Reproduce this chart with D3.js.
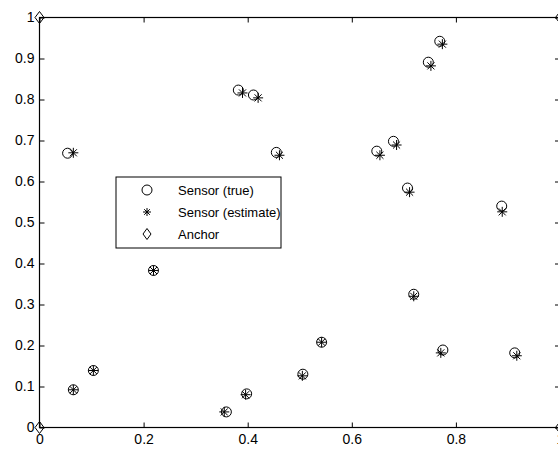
<!DOCTYPE html>
<html><head><meta charset="utf-8">
<script src="https://cdn.jsdelivr.net/npm/d3@7"></script>
<style>body{margin:0;background:#fff}svg{display:block}text{font-family:"Liberation Sans",Arial,sans-serif;font-size:13px;fill:#000}.tk text{font-size:14px}</style>
</head><body><svg id="c" width="558" height="450"></svg>
<script>
const trueX = [0.054,0.382,0.411,0.455,0.769,0.747,0.680,0.648,0.707,0.888,0.219,0.719,0.542,0.506,0.775,0.913,0.398,0.359,0.065,0.1035];
const trueY = [0.669,0.823,0.811,0.671,0.942,0.891,0.698,0.674,0.584,0.540,0.383,0.325,0.208,0.130,0.189,0.182,0.082,0.038,0.092,0.139];
const estX  = [0.065,0.390,0.420,0.461,0.774,0.752,0.686,0.654,0.711,0.889,0.219,0.719,0.542,0.505,0.771,0.917,0.396,0.355,0.065,0.1035];
const estY  = [0.670,0.816,0.804,0.664,0.935,0.882,0.689,0.664,0.574,0.526,0.383,0.320,0.208,0.126,0.182,0.175,0.080,0.038,0.092,0.139];
const anchorX = [0,0,1,1];
const anchorY = [0,1,0,1];
const xTicks = [0,0.2,0.4,0.6,0.8,1];
const yTicks = [0,0.1,0.2,0.3,0.4,0.5,0.6,0.7,0.8,0.9,1];
const legendLabels = ["Sensor (true)","Sensor (estimate)","Anchor"];

const svg = d3.select("#c");
const x = d3.scaleLinear().domain([0,1]).range([39.5,560]);
const y = d3.scaleLinear().domain([0,1]).range([427.5,17.5]);

// box
svg.append("rect").attr("x",x(0)).attr("y",y(1)).attr("width",x(1)-x(0)).attr("height",y(0)-y(1))
  .attr("fill","none").attr("stroke","#000").attr("stroke-width",1.2);

const fmt = d => d===0?"0":d===1?"1":d3.format(".1f")(d);
svg.append("g").attr("class","tk").attr("transform",`translate(0,${y(0)})`)
  .call(d3.axisBottom(x).tickValues(xTicks).tickFormat(fmt).tickSizeInner(-5).tickSizeOuter(0).tickPadding(7))
  .call(g=>{g.select(".domain").remove();g.selectAll("text").attr("font-size",null).attr("font-family",null);});
svg.append("g").attr("transform",`translate(0,${y(1)})`)
  .call(d3.axisTop(x).tickValues(xTicks).tickFormat("").tickSizeInner(-5).tickSizeOuter(0))
  .call(g=>g.select(".domain").remove());
svg.append("g").attr("class","tk").attr("transform",`translate(${x(0)},0)`)
  .call(d3.axisLeft(y).tickValues(yTicks).tickFormat(fmt).tickSizeInner(-5).tickSizeOuter(0).tickPadding(5))
  .call(g=>{g.select(".domain").remove();g.selectAll("text").attr("font-size",null).attr("font-family",null);});
svg.append("g").attr("transform",`translate(${x(1)},0)`)
  .call(d3.axisRight(y).tickValues(yTicks).tickFormat("").tickSizeInner(-5).tickSizeOuter(0))
  .call(g=>g.select(".domain").remove());

function star(g,cx,cy,r){
  const d=r*0.707;
  g.append("path").attr("fill","none").attr("stroke","#000").attr("stroke-width",1)
   .attr("d",`M${cx-r},${cy}L${cx+r},${cy}M${cx},${cy-r}L${cx},${cy+r}M${cx-d},${cy-d}L${cx+d},${cy+d}M${cx-d},${cy+d}L${cx+d},${cy-d}`);
}
function diamond(g,cx,cy,rx,ry){
  g.append("path").attr("fill","none").attr("stroke","#000").attr("stroke-width",1)
   .attr("d",`M${cx-rx},${cy}L${cx},${cy-ry}L${cx+rx},${cy}L${cx},${cy+ry}Z`);
}
const marks = svg.append("g");
trueX.forEach((v,i)=>{
  marks.append("circle").attr("cx",x(v)).attr("cy",y(trueY[i])).attr("r",5)
    .attr("fill","none").attr("stroke","#000").attr("stroke-width",1);
});
estX.forEach((v,i)=>star(marks,x(v),y(estY[i]),5));
anchorX.forEach((v,i)=>diamond(marks,x(v),y(anchorY[i]),4.5,6));

// legend
const lg = svg.append("g");
lg.append("rect").attr("x",116).attr("y",177).attr("width",165).attr("height",71)
  .attr("fill","#fff").attr("stroke","#000").attr("stroke-width",1);
const rows=[190,212,234];
lg.append("circle").attr("cx",147).attr("cy",rows[0]).attr("r",5).attr("fill","none").attr("stroke","#000");
star(lg,147,rows[1],4);
diamond(lg,147,rows[2],4,5.5);
legendLabels.forEach((t,i)=>lg.append("text").attr("x",178).attr("y",rows[i]+5).text(t));
</script></body></html>
